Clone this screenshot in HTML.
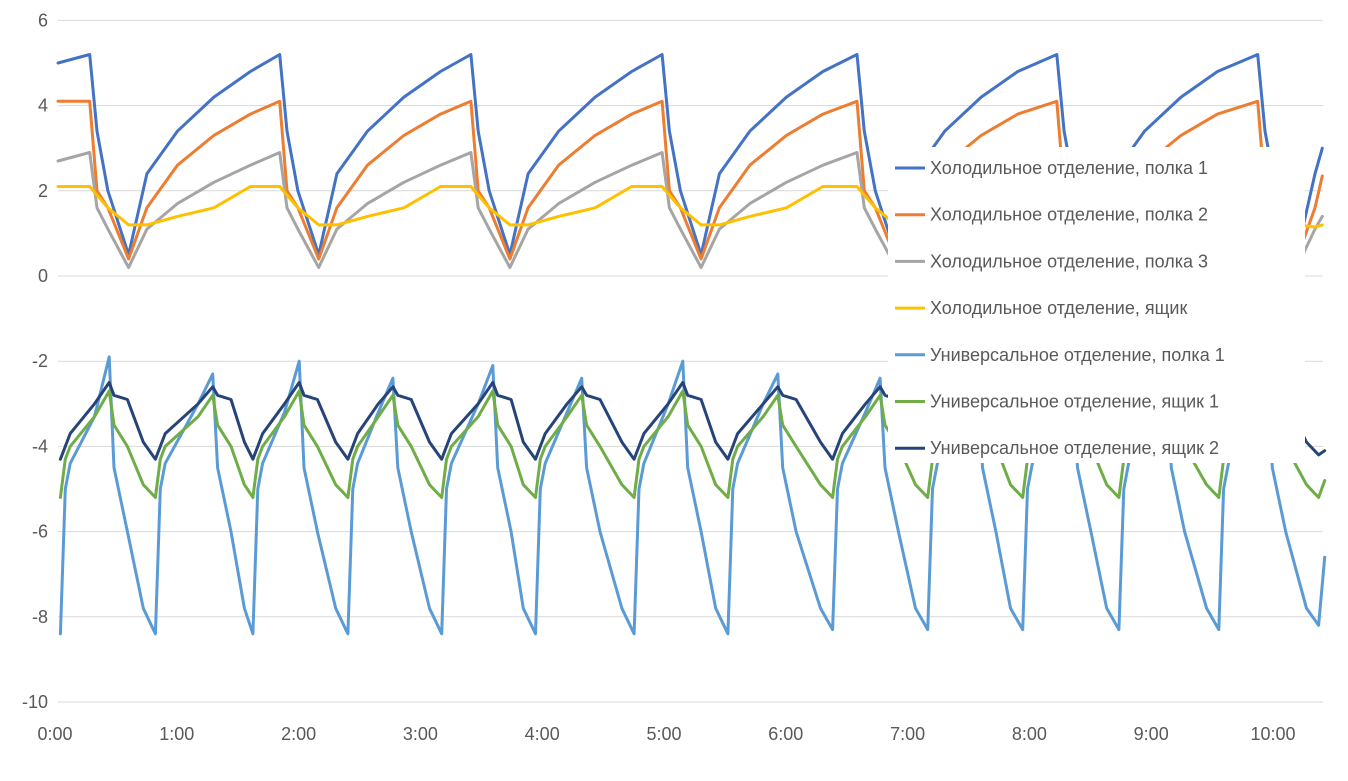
<!DOCTYPE html>
<html><head><meta charset="utf-8"><style>
body{margin:0;background:#fff;}
svg{display:block;font-family:"Liberation Sans",sans-serif;}
</style></head><body>
<svg id="chart" width="1348" height="781"></svg>
<script>
const xTicks=["0:00","1:00","2:00","3:00","4:00","5:00","6:00","7:00","8:00","9:00","10:00"];
const yTicks=[6,4,2,0,-2,-4,-6,-8,-10];
const fT=[0,0.26,0.32,0.41,0.58,0.73,0.98,1.28,1.58,1.82,1.88,1.97,2.14,2.29,2.54,2.84,3.14,3.39,3.45,3.54,3.71,3.86,4.11,4.41,4.71,4.96,5.02,5.11,5.28,5.43,5.68,5.98,6.28,6.56,6.62,6.71,6.88,7.03,7.28,7.58,7.88,8.20,8.26,8.35,8.52,8.67,8.92,9.22,9.52,9.85,9.91,10.00,10.17,10.32,10.38];
const fridge1=[5.0,5.2,3.4,2.0,0.5,2.4,3.4,4.2,4.8,5.2,3.4,2.0,0.5,2.4,3.4,4.2,4.8,5.2,3.4,2.0,0.5,2.4,3.4,4.2,4.8,5.2,3.4,2.0,0.5,2.4,3.4,4.2,4.8,5.2,3.4,2.0,0.5,2.4,3.4,4.2,4.8,5.2,3.4,2.0,0.5,2.4,3.4,4.2,4.8,5.2,3.4,2.0,0.5,2.4,3.0];
const fridge2=[4.1,4.1,2.0,1.6,0.4,1.6,2.6,3.3,3.8,4.1,2.0,1.6,0.4,1.6,2.6,3.3,3.8,4.1,2.0,1.6,0.4,1.6,2.6,3.3,3.8,4.1,2.0,1.6,0.4,1.6,2.6,3.3,3.8,4.1,2.0,1.6,0.4,1.6,2.6,3.3,3.8,4.1,2.0,1.6,0.4,1.6,2.6,3.3,3.8,4.1,2.0,1.6,0.4,1.6,2.35];
const fridge3=[2.7,2.9,1.6,1.1,0.2,1.1,1.7,2.2,2.6,2.9,1.6,1.1,0.2,1.1,1.7,2.2,2.6,2.9,1.6,1.1,0.2,1.1,1.7,2.2,2.6,2.9,1.6,1.1,0.2,1.1,1.7,2.2,2.6,2.9,1.6,1.1,0.2,1.1,1.7,2.2,2.6,2.9,1.6,1.1,0.2,1.1,1.7,2.2,2.6,2.9,1.6,1.1,0.2,1.1,1.4];
const fridgeBox=[2.1,2.1,1.9,1.6,1.2,1.2,1.4,1.6,2.1,2.1,1.9,1.6,1.2,1.2,1.4,1.6,2.1,2.1,1.9,1.6,1.2,1.2,1.4,1.6,2.1,2.1,1.9,1.6,1.2,1.2,1.4,1.6,2.1,2.1,1.9,1.6,1.2,1.2,1.4,1.6,2.1,2.1,1.9,1.6,1.2,1.2,1.4,1.6,2.1,2.1,1.9,1.6,1.2,1.15,1.2];
const uT=[0.02,0.06,0.10,0.30,0.42,0.46,0.57,0.70, 0.80,0.84,0.88,1.15,1.27,1.31,1.42,1.53, 1.60,1.64,1.68,1.86,1.98,2.02,2.13,2.28, 2.38,2.42,2.46,2.63,2.75,2.79,2.90,3.05, 3.15,3.19,3.23,3.45,3.57,3.61,3.72,3.82, 3.92,3.96,4.00,4.18,4.30,4.34,4.45,4.63, 4.73,4.77,4.81,5.01,5.13,5.17,5.28,5.40, 5.50,5.54,5.58,5.79,5.91,5.95,6.06,6.26, 6.36,6.40,6.44,6.63,6.75,6.79,6.90,7.04, 7.14,7.18,7.22,7.43,7.55,7.59,7.70,7.82, 7.92,7.96,8.00,8.21,8.33,8.37,8.48,8.61, 8.71,8.75,8.79,8.98,9.10,9.14,9.25,9.43, 9.53,9.57,9.61,9.81,9.93,9.97,10.08,10.25, 10.35,10.40];
const univ1=[-8.4,-5.0,-4.4,-3.3,-1.9,-4.5,-6.0,-7.8, -8.4,-5.0,-4.4,-3.0,-2.3,-4.5,-6.0,-7.8, -8.4,-5.0,-4.4,-3.2,-2.0,-4.5,-6.0,-7.8, -8.4,-5.0,-4.4,-3.2,-2.4,-4.5,-6.0,-7.8, -8.4,-5.0,-4.4,-3.0,-2.1,-4.5,-6.0,-7.8, -8.4,-5.0,-4.4,-3.2,-2.4,-4.5,-6.0,-7.8, -8.4,-5.0,-4.4,-3.0,-2.0,-4.5,-6.0,-7.8, -8.4,-5.0,-4.4,-3.0,-2.3,-4.5,-6.0,-7.8, -8.3,-5.0,-4.4,-3.2,-2.4,-4.5,-6.0,-7.8, -8.3,-5.0,-4.4,-3.2,-2.3,-4.5,-6.0,-7.8, -8.3,-5.0,-4.4,-3.2,-2.3,-4.5,-6.0,-7.8, -8.3,-5.0,-4.4,-3.2,-2.3,-4.5,-6.0,-7.8, -8.3,-5.0,-4.4,-3.2,-2.3,-4.5,-6.0,-7.8, -8.2,-6.6];
const univBox1=[-5.2,-4.3,-4.0,-3.3,-2.7,-3.5,-4.0,-4.9, -5.2,-4.3,-4.0,-3.3,-2.8,-3.5,-4.0,-4.9, -5.2,-4.3,-4.0,-3.3,-2.7,-3.5,-4.0,-4.9, -5.2,-4.3,-4.0,-3.3,-2.8,-3.5,-4.0,-4.9, -5.2,-4.3,-4.0,-3.3,-2.7,-3.5,-4.0,-4.9, -5.2,-4.3,-4.0,-3.3,-2.8,-3.5,-4.0,-4.9, -5.2,-4.3,-4.0,-3.3,-2.7,-3.5,-4.0,-4.9, -5.2,-4.3,-4.0,-3.3,-2.8,-3.5,-4.0,-4.9, -5.2,-4.3,-4.0,-3.3,-2.8,-3.5,-4.0,-4.9, -5.2,-4.3,-4.0,-3.3,-2.8,-3.5,-4.0,-4.9, -5.2,-4.3,-4.0,-3.3,-2.8,-3.5,-4.0,-4.9, -5.2,-4.3,-4.0,-3.3,-2.8,-3.5,-4.0,-4.9, -5.2,-4.3,-4.0,-3.3,-2.8,-3.5,-4.0,-4.9, -5.2,-4.8];
const univBox2=[-4.3,-4.0,-3.7,-3.0,-2.5,-2.8,-2.9,-3.9, -4.3,-4.0,-3.7,-3.0,-2.6,-2.8,-2.9,-3.9, -4.3,-4.0,-3.7,-3.0,-2.5,-2.8,-2.9,-3.9, -4.3,-4.0,-3.7,-3.0,-2.6,-2.8,-2.9,-3.9, -4.3,-4.0,-3.7,-3.0,-2.5,-2.8,-2.9,-3.9, -4.3,-4.0,-3.7,-3.0,-2.6,-2.8,-2.9,-3.9, -4.3,-4.0,-3.7,-3.0,-2.5,-2.8,-2.9,-3.9, -4.3,-4.0,-3.7,-3.0,-2.6,-2.8,-2.9,-3.9, -4.3,-4.0,-3.7,-3.0,-2.6,-2.8,-2.9,-3.9, -4.3,-4.0,-3.7,-3.0,-2.6,-2.8,-2.9,-3.9, -4.3,-4.0,-3.7,-3.0,-2.6,-2.8,-2.9,-3.9, -4.3,-4.0,-3.7,-3.0,-2.6,-2.8,-2.9,-3.9, -4.3,-4.0,-3.7,-3.0,-2.6,-2.8,-2.9,-3.9, -4.2,-4.1];
const seriesNames=["Холодильное отделение, полка 1","Холодильное отделение, полка 2","Холодильное отделение, полка 3","Холодильное отделение, ящик","Универсальное отделение, полка 1","Универсальное отделение, ящик 1","Универсальное отделение, ящик 2"];

const NS="http://www.w3.org/2000/svg";
const svg=document.getElementById('chart');
const X0=58,XH=121.8,XR=1323;
const xs=t=>X0+t*XH;
const ys=v=>276-v*42.6;
function mk(tag,attrs,parent){const e=document.createElementNS(NS,tag);for(const k in attrs)e.setAttribute(k,attrs[k]);(parent||svg).appendChild(e);return e;}

yTicks.forEach(v=>{
  const g=mk('line',{x1:X0,x2:XR,y1:ys(v),y2:ys(v),stroke:'#d9d9d9','stroke-width':1});
  
  
  const t=mk('text',{x:X0-10,y:ys(v)+6,'text-anchor':'end','font-size':18,fill:'#595959'});
  t.textContent=v;
  
  
});
xTicks.forEach((s,i)=>{
  const t=mk('text',{x:xs(i)-3,y:740,'text-anchor':'middle','font-size':18,fill:'#595959'});
  t.textContent=s;
  
  
});
const all=[[fT,fridge1,'#4472C4'],[fT,fridge2,'#ED7D31'],[fT,fridge3,'#A5A5A5'],[fT,fridgeBox,'#FFC000'],[uT,univ1,'#5B9BD5'],[uT,univBox1,'#70AD47'],[uT,univBox2,'#264478']];
all.forEach((s,i)=>{
  const pts=s[0].map((t,j)=>xs(t).toFixed(1)+','+ys(s[1][j]).toFixed(1)).join(' ');
  const p=mk('polyline',{points:pts,fill:'none',stroke:s[2],'stroke-width':3,'stroke-linejoin':'round','stroke-linecap':'round'});
  
  
});
const lg=mk('g',{});


mk('rect',{x:888,y:147,width:417,height:316,fill:'#fff'},lg);
seriesNames.forEach((n,i)=>{
  const y=168+i*46.7;
  const l=mk('line',{x1:895,x2:925,y1:y,y2:y,stroke:all[i][2],'stroke-width':3},lg);
  
  
  const t=mk('text',{x:930,y:y+6,'font-size':18,fill:'#595959'},lg);
  t.textContent=n;
  
  
});
</script>
</body></html>
